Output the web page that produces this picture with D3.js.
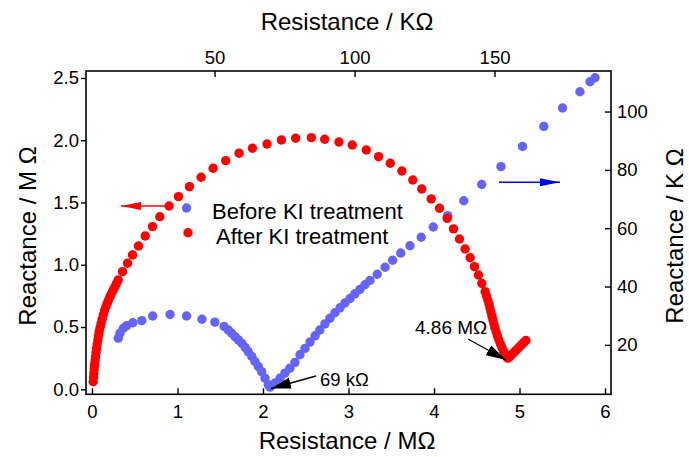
<!DOCTYPE html>
<html><head><meta charset="utf-8">
<script src="https://cdn.jsdelivr.net/npm/d3@7/dist/d3.min.js"></script>
<style>body{margin:0;background:#fff;} text{font-family:"Liberation Sans",Arial,sans-serif;}</style>
</head><body><svg id="c" width="689" height="457"></svg>
<script>
// After KI treatment (Resistance MΩ, Reactance MΩ) – bottom/left axes
const afterR = [0.014,0.018,0.022,0.026,0.030,0.036,0.042,0.048,0.054,0.061,0.069,0.076,0.084,0.095,0.107,0.119,0.131,0.146,0.162,0.178,0.194,0.211,0.229,0.248,0.268,0.287,0.306,0.357,0.416,0.474,0.544,0.622,0.708,0.793,0.902,1.012,1.140,1.276,1.416,1.564,1.720,1.876,2.047,2.215,2.382,2.565,2.721,2.888,3.044,3.208,3.352,3.488,3.624,3.752,3.857,3.967,4.064,4.154,4.228,4.298,4.364,4.423,4.473,4.520,4.559,4.598,4.613,4.629,4.643,4.654,4.666,4.678,4.689,4.701,4.713,4.727,4.742,4.759,4.777,4.794,4.812,4.830,4.847,4.862,4.888,4.911,4.935,4.958,4.981,5.005,5.028,5.051,5.075];
const afterX = [0.061,0.096,0.131,0.163,0.196,0.229,0.262,0.297,0.332,0.364,0.396,0.430,0.463,0.497,0.530,0.563,0.597,0.630,0.663,0.690,0.717,0.744,0.771,0.797,0.824,0.851,0.878,0.945,1.012,1.079,1.151,1.231,1.306,1.386,1.472,1.547,1.627,1.703,1.775,1.836,1.896,1.936,1.970,2.002,2.016,2.021,2.008,1.986,1.962,1.922,1.868,1.815,1.753,1.681,1.609,1.529,1.454,1.373,1.288,1.207,1.127,1.057,0.985,0.918,0.851,0.784,0.749,0.717,0.685,0.653,0.621,0.589,0.557,0.524,0.492,0.460,0.428,0.396,0.364,0.336,0.308,0.284,0.263,0.251,0.263,0.280,0.296,0.312,0.328,0.344,0.360,0.376,0.392];
// Before KI treatment (Resistance kΩ, Reactance kΩ) – top/right axes
const beforeR = [15.6,16.2,17.4,18.6,20.8,24.0,27.9,34.1,40.0,45.5,50.1,53.4,54.9,56.1,57.3,58.5,59.7,60.9,62.0,63.3,64.4,65.6,66.8,68.0,69.2,69.8,71.6,73.4,75.1,76.9,78.7,80.5,82.3,84.1,85.9,87.6,89.4,91.2,93.0,94.8,96.6,98.4,100.1,101.9,103.7,105.5,108.1,110.9,113.6,116.5,119.8,123.8,128.1,133.3,139.0,145.4,152.3,160.0,167.6,174.3,180.5,184.1,185.9];
const beforeX = [22.3,24.0,25.7,26.6,27.6,28.3,29.9,30.4,29.9,28.8,27.8,26.3,25.1,24.0,22.8,21.7,20.6,19.1,17.7,16.0,14.3,12.6,10.8,8.6,6.3,5.5,6.9,8.6,10.3,12.0,14.0,16.6,18.8,21.0,23.1,25.1,27.2,29.1,31.0,32.7,34.4,35.9,37.5,39.0,40.6,42.1,44.2,46.6,49.0,51.5,54.0,56.9,60.4,64.3,69.4,75.0,81.1,88.0,94.9,101.2,106.8,110.2,111.6];
const bottomTicks = [0,1,2,3,4,5,6];
const leftTicks = [0.0,0.5,1.0,1.5,2.0,2.5];
const topTicks = [50,100,150];
const rightTicks = [20,40,60,80,100];
const seriesNames = ["Before KI treatment","After KI treatment"];

const svg = d3.select("#c");
const L=86,R=611,T=71,B=394.3;
const xB = d3.scaleLinear().domain([-0.07,6.07]).range([L,R]);
const yL = d3.scaleLinear().domain([-0.04,2.556]).range([B,T]);
const xT = d3.scaleLinear().domain([4.07,191.6]).range([L,R]);
const yR = d3.scaleLinear().domain([3.05,113.9]).range([B,T]);
const red="#ff0000", blue="#6464f8", rad=4.7;

const defs = svg.append("defs");
function headBig(id,col,w,h){
  defs.append("marker").attr("id",id).attr("viewBox",`0 0 ${w} ${h}`).attr("refX",w).attr("refY",h/2)
   .attr("markerWidth",w).attr("markerHeight",h).attr("markerUnits","userSpaceOnUse").attr("orient","auto")
   .append("path").attr("d",`M0,1 L${w},${h/2} L0,${h-1} Z`).attr("fill",col);
}
headBig("hr",red,20,10); headBig("hb","#0000ff",20,10); headBig("hk","#000",20,13);

// data
svg.append("g").selectAll("circle").data(beforeR.map((r,i)=>[r,beforeX[i]])).join("circle")
  .attr("cx",d=>xT(d[0])).attr("cy",d=>yR(d[1])).attr("r",rad).attr("fill",blue);
svg.append("g").selectAll("circle").data(afterR.map((r,i)=>[r,afterX[i]])).join("circle")
  .attr("cx",d=>xB(d[0])).attr("cy",d=>yL(d[1])).attr("r",rad).attr("fill",red);

// frame
svg.append("rect").attr("x",L).attr("y",T).attr("width",R-L).attr("height",B-T)
  .attr("fill","none").attr("stroke","#000").attr("stroke-width",1.6);

const tickFont = 18.5;
function style(g){
  g.select(".domain").remove();
  g.selectAll(".tick line").attr("stroke","#000").attr("stroke-width",1.4);
  g.selectAll("text").attr("font-size",tickFont).attr("fill","#000").attr("font-family","Liberation Sans, Arial, sans-serif");
}
svg.append("g").attr("transform",`translate(0,${B})`)
  .call(d3.axisBottom(xB).tickValues(bottomTicks).tickSize(-6).tickPadding(11).tickFormat(d3.format("d"))).call(style);
svg.append("g").attr("transform",`translate(${L},0)`)
  .call(d3.axisLeft(yL).tickValues(leftTicks).tickSize(5).tickPadding(2).tickFormat(d3.format(".1f"))).call(style);
svg.append("g").attr("transform",`translate(0,${T})`)
  .call(d3.axisTop(xT).tickValues(topTicks).tickSize(-6).tickPadding(7).tickFormat(d3.format("d"))).call(style);
svg.append("g").attr("transform",`translate(${R},0)`)
  .call(d3.axisRight(yR).tickValues(rightTicks).tickSize(-6).tickPadding(6).tickFormat(d3.format("d"))).call(style);

// titles
const tf = 24;
svg.append("text").attr("x",347).attr("y",30).attr("text-anchor","middle").attr("font-size",tf).text("Resistance / KΩ");
svg.append("text").attr("x",347).attr("y",449).attr("text-anchor","middle").attr("font-size",tf).text("Resistance / MΩ");
svg.append("text").attr("transform","translate(36,236) rotate(-90)").attr("text-anchor","middle").attr("font-size",tf).text("Reactance / M Ω");
svg.append("text").attr("transform","translate(683,236) rotate(-90)").attr("text-anchor","middle").attr("font-size",tf).text("Reactance  / K Ω");

// legend
svg.append("circle").attr("cx",186.5).attr("cy",208).attr("r",rad).attr("fill",blue);
svg.append("circle").attr("cx",188).attr("cy",232.7).attr("r",rad).attr("fill",red);
svg.append("text").attr("x",212).attr("y",219).attr("font-size",22).text(seriesNames[0]);
svg.append("text").attr("x",216).attr("y",244).attr("font-size",22).text(seriesNames[1]);

// axis arrows
svg.append("line").attr("x1",168).attr("y1",206).attr("x2",121).attr("y2",206)
  .attr("stroke",red).attr("stroke-width",1.6).attr("marker-end","url(#hr)");
svg.append("line").attr("x1",499).attr("y1",182.3).attr("x2",560).attr("y2",182.3)
  .attr("stroke","#0000ff").attr("stroke-width",1.6).attr("marker-end","url(#hb)");

// annotations
svg.append("text").attr("x",320).attr("y",386).attr("font-size",18.5).text("69 kΩ");
svg.append("line").attr("x1",316).attr("y1",376).attr("x2",271).attr("y2",388.5)
  .attr("stroke","#000").attr("stroke-width",1.3).attr("marker-end","url(#hk)");
svg.append("text").attr("x",415).attr("y",334).attr("font-size",19).text("4.86 MΩ");
svg.append("line").attr("x1",468).attr("y1",339).attr("x2",506).attr("y2",360)
  .attr("stroke","#000").attr("stroke-width",1.3).attr("marker-end","url(#hk)");
</script></body></html>
